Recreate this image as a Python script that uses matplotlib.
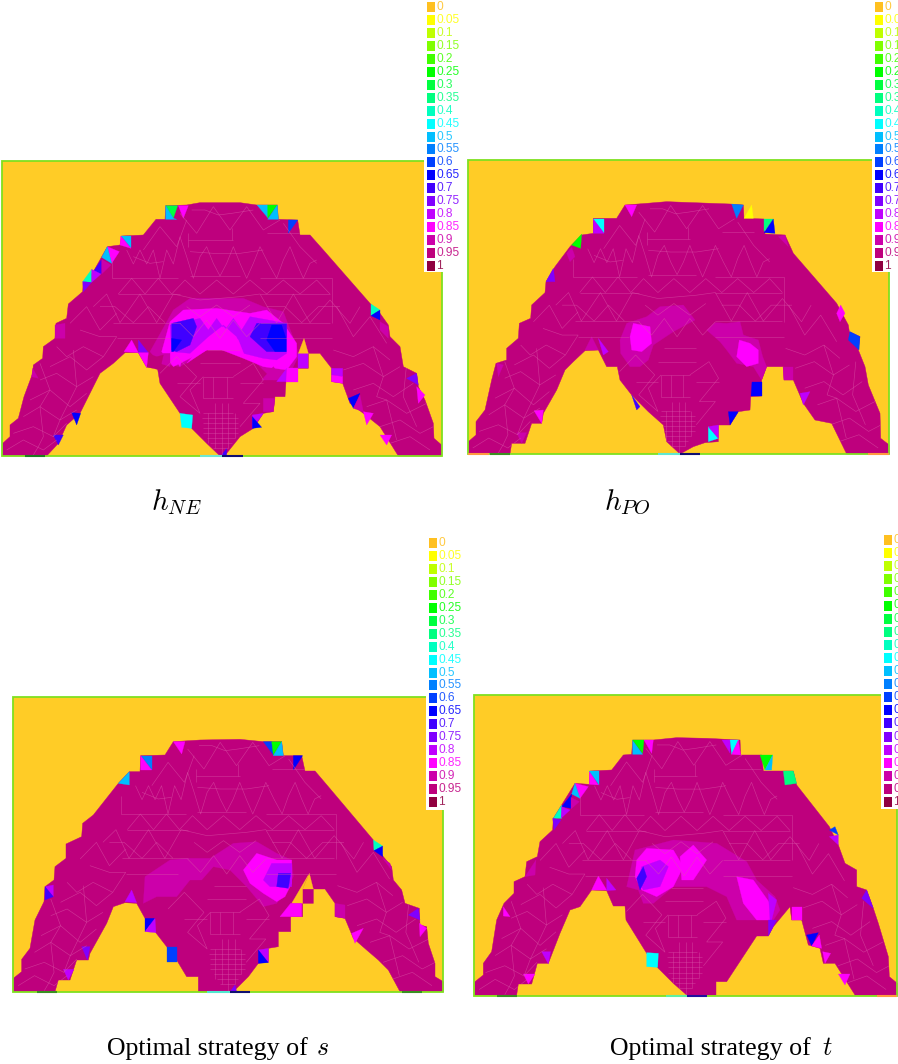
import matplotlib
matplotlib.use("Agg")
import matplotlib.pyplot as plt
from matplotlib.patches import Polygon, Rectangle

plt.rcParams['mathtext.fontset'] = 'cm'

LEVELS = ['0','0.05','0.1','0.15','0.2','0.25','0.3','0.35','0.4','0.45','0.5',
          '0.55','0.6','0.65','0.7','0.75','0.8','0.85','0.9','0.95','1']
COLORS = ['#FFC020','#FFFF00','#BFFF00','#80FF00','#40FF00','#00FF00','#00FF40','#00FF80',
          '#00FFBF','#00FFFF','#00BFFF','#0080FF','#0040FF','#0000FF','#4000FF','#8000FF',
          '#BF00FF','#FF00FF','#CC00AA','#BE007D','#900040']
GOLD = '#FFCC26'
FRAME = '#7FE020'
MESHC = '#DB55A8'

# Mesh outlines and cells, in units of 1/3 pixel of each panel's window
NE_OUT = [(8,918),(8,880),(30,860),(30,825),(55,805),(72,740),(98,670),(100,645),(128,625),(130,590),(165,565),(168,520),(200,505),(205,462),(248,425),(250,395),(280,365),(322,290),(360,285),(365,258),(430,255),(468,208),(495,208),(497,167),(560,165),(600,158),(720,158),(770,165),(832,165),(835,208),(893,210),(900,255),(930,255),(970,300),(1110,460),(1140,490),(1165,525),(1170,560),(1200,590),(1210,650),(1250,670),(1255,710),(1275,750),(1300,820),(1302,865),(1325,885),(1325,918),(1195,918),(1140,830),(1090,790),(1050,760),(1028,700),(995,695),(995,655),(960,610),(925,610),(925,655),(893,655),(893,695),(858,695),(855,740),(825,740),(820,785),(790,790),(760,835),(720,860),(680,910),(660,918),(620,880),(575,835),(540,790),(480,700),(472,652),(440,652),(415,608),(375,608),(340,640),(300,670),(240,790),(200,825),(175,880),(140,918)]
NE_CELLS = [
 (0.9,[(450,605),(520,480),(570,445),(730,445),(790,470),(850,485),(890,590),(895,620),(860,690),(820,690),(770,640),(700,600),(620,600),(540,650),(480,640)]),
 (0.85,[(485,605),(510,515),(550,480),(650,475),(750,490),(800,480),(850,520),(890,580),(890,620),(860,660),(790,650),(730,625),(640,590),(570,625),(520,650)]),
 (0.8,[(510,525),(600,505),(625,540),(650,505),(675,540),(700,505),(725,540),(750,500),(860,520),(860,610),(830,630),(790,625),(730,610),(710,560),(670,525),(625,560),(570,610),(515,605)]),
 (0.7,[(515,520),(580,505),(590,530),(570,585),(530,605),(515,600)]),
 (0.7,[(770,520),(860,520),(860,605),(800,605),(750,560)]),
 (0.65,[(800,570),(815,525),(845,525),(858,565),(858,605),(825,605)]),
 (0.65,[(515,565),(545,570),(520,605),(515,605)]),
 (0.85,[(560,640),(625,565),(670,530),(715,570),(735,620),(690,600),(620,600)]),
 (0.9,[(490,610),(510,610),(510,650),(480,640)]),
 (0.85,[(515,610),(550,615),(540,650)]),
 (0.95,[(470,620),(490,615),(480,660),(445,652),(455,615)]),
 (0.9,[(785,690),(820,650),(850,690)]),
 (0.8,[(830,695),(860,655),(860,695)]),
 (0.85,[(860,655),(893,655),(893,695),(858,695)]),
 (0.8,[(895,610),(925,610),(925,655),(895,655)]),
 (0.9,[(790,745),(825,745),(820,785),(790,785)]),
 (0,[(895,610),(912,565),(925,610)]),
 (0.3,[(497,167),(533,167),(520,205)]),
 (0.5,[(497,167),(520,205),(530,208),(497,208)]),
 (0.85,[(535,167),(565,167),(550,205)]),
 (0.5,[(770,165),(803,165),(803,205)]),
 (0.25,[(803,205),(832,165),(803,165)]),
 (0.5,[(803,208),(835,208),(832,165)]),
 (0.6,[(865,210),(893,210),(865,250)]),
 (0.48,[(362,258),(393,258),(393,295)]),
 (0.85,[(362,258),(393,295),(360,285)]),
 (0.85,[(322,290),(358,305),(335,340)]),
 (0.5,[(322,290),(305,322),(335,340)]),
 (0.7,[(280,365),(305,328),(305,372)]),
 (0.9,[(305,328),(333,345),(305,372)]),
 (0.4,[(248,395),(275,358),(275,397)]),
 (0.8,[(275,358),(303,372),(275,397)]),
 (0.75,[(248,395),(275,397),(250,425)]),
 (0.4,[(1113,462),(1140,480),(1113,497)]),
 (0.65,[(1113,497),(1140,480),(1140,510)]),
 (0.9,[(1140,515),(1165,530),(1165,565),(1140,540)]),
 (0.9,[(165,525),(195,520),(195,565),(165,565)]),
 (0.9,[(98,655),(115,685),(95,680)]),
 (0.75,[(1220,685),(1250,670),(1255,705)]),
 (0.85,[(1250,710),(1275,735),(1255,760)]),
 (0.8,[(995,655),(1028,655),(1028,680),(995,675)]),
 (0.85,[(995,675),(1028,680),(1028,700),(995,695)]),
 (0.65,[(1045,745),(1080,730),(1060,775)]),
 (0.9,[(1060,775),(1080,735),(1090,785)]),
 (0.85,[(1090,785),(1120,790),(1100,825)]),
 (0.85,[(1140,855),(1175,855),(1160,885)]),
 (0.65,[(215,788),(242,790),(230,825)]),
 (0.7,[(160,855),(190,855),(175,885)]),
 (0.45,[(540,790),(578,795),(575,835),(545,832)]),
 (0.8,[(757,795),(790,790),(757,835)]),
 (0.65,[(757,800),(785,832),(757,835)]),
 (0.85,[(372,605),(395,570),(415,608)]),
 (0.75,[(415,570),(445,608),(415,608)]),
 (0.85,[(415,608),(445,608),(440,652)]),
 (0.7,[(665,915),(680,895),(680,918)]),
]
NE_STRIPS = [(75,135,'#1f7a20'),(600,665,'#70E8D0'),(665,730,'#101070')]

PO_OUT = [(25,912),(25,875),(48,855),(48,815),(75,780),(95,690),(108,640),(140,630),(140,595),(175,565),(178,520),(212,505),(215,465),(255,428),(258,395),(285,350),(330,290),(335,285),(365,255),(400,250),(400,205),(470,205),(495,165),(560,160),(620,155),(700,158),(810,162),(850,165),(852,205),(912,207),(915,252),(975,255),(1000,310),(1130,460),(1165,525),(1168,545),(1200,560),(1195,600),(1215,650),(1225,705),(1260,790),(1262,865),(1288,885),(1288,912),(1160,912),(1115,820),(1065,810),(1030,760),(1000,690),(972,690),(970,650),(920,650),(905,690),(905,738),(872,740),(870,780),(835,785),(810,825),(775,825),(775,875),(735,878),(700,890),(660,912),(620,875),(610,825),(565,785),(515,735),(480,690),(472,650),(440,650),(415,600),(375,602),(340,635),(315,660),(290,720),(250,790),(245,820),(215,820),(195,880),(155,880),(150,912)]
PO_CELLS = [
 (0.9,[(480,570),(500,520),(560,500),(600,470),(670,465),(705,510),(640,545),(580,585),(565,630),(540,650),(510,650),(482,610)]),
 (0.9,[(740,540),(765,518),(800,520),(840,515),(850,555),(895,570),(908,620),(920,650),(905,690),(880,650),(830,640),(800,600),(780,575)]),
 (0.85,[(510,560),(520,520),(570,530),(575,580),(545,605),(515,600)]),
 (0.85,[(830,620),(838,570),(870,580),(895,600),(895,640),(860,650)]),
 (0.85,[(495,165),(530,165),(515,200)]),
 (0.55,[(815,162),(850,165),(830,205)]),
 (0.05,[(852,205),(875,165),(880,205)]),
 (0.45,[(400,207),(432,207),(432,250)]),
 (0.8,[(400,207),(432,250),(400,250)]),
 (0.25,[(335,285),(365,252),(362,295)]),
 (0.35,[(912,207),(940,207),(912,245)]),
 (0.65,[(940,207),(945,250),(912,248)]),
 (0.9,[(320,310),(335,292),(345,320),(330,335)]),
 (0.75,[(258,395),(280,355),(285,395)]),
 (0.9,[(955,260),(975,255),(985,290)]),
 (0.85,[(1130,490),(1142,465),(1155,490),(1140,515)]),
 (0.6,[(1165,570),(1170,545),(1200,560),(1197,600)]),
 (0.9,[(375,600),(395,560),(415,600)]),
 (0.8,[(415,565),(445,605),(430,615)]),
 (0.9,[(970,650),(1000,650),(1000,690),(972,690)]),
 (0.8,[(1020,730),(1050,725),(1030,765)]),
 (0.85,[(222,782),(250,780),(245,820)]),
 (0.9,[(170,848),(200,848),(185,880)]),
 (0.9,[(110,640),(130,645),(115,680)]),
 (0.65,[(875,695),(905,695),(905,738),(872,738)]),
 (0.65,[(805,785),(835,785),(810,825)]),
 (0.7,[(515,735),(540,770),(530,780)]),
 (0.45,[(745,830),(775,865),(745,875)]),
 (0.8,[(745,830),(775,825),(775,865)]),
]
PO_STRIPS = [(25,88,'#FF9A40'),(90,150,'#3a9020'),(595,660,'#60E8D0'),(660,720,'#101070'),(1225,1288,'#FF9A40')]

S_OUT = [(40,905),(40,865),(65,845),(65,808),(90,775),(105,690),(132,635),(135,590),(162,570),(165,530),(198,505),(198,462),(245,440),(248,400),(280,375),(355,280),(388,245),(420,245),(422,197),(495,195),(520,155),(600,150),(720,148),(790,155),(845,155),(850,197),(905,197),(915,243),(945,243),(985,290),(1120,450),(1150,500),(1175,530),(1180,570),(1205,600),(1215,640),(1258,655),(1260,705),(1280,710),(1285,760),(1305,820),(1305,860),(1330,875),(1330,905),(1200,905),(1165,840),(1135,810),(1100,780),(1060,745),(1035,685),(1005,680),(1005,640),(975,597),(940,597),(940,640),(908,640),(908,680),(872,680),(872,725),(835,725),(835,770),(805,775),(805,815),(775,820),(745,860),(705,900),(690,905),(595,905),(595,860),(560,860),(530,810),(500,770),(465,725),(435,685),(410,640),(375,638),(340,650),(320,700),(270,790),(265,810),(230,810),(210,870),(175,870),(165,905)]
S_CELLS = [
 (0.9,[(435,560),(510,510),(560,505),(630,505),(700,460),(770,455),(830,490),(875,510),(880,560),(860,600),(830,640),(790,650),(740,590),(690,540),(640,530),(605,570),(570,570),(530,620),(470,620),(430,640)]),
 (0.85,[(730,540),(770,490),(830,510),(875,510),(875,580),(855,620),(830,635),(790,610),(750,580)]),
 (0.8,[(790,570),(815,520),(875,520),(875,590),(810,590)]),
 (0.7,[(835,550),(872,550),(865,595),(830,590)]),
 (0,[(908,597),(928,550),(940,597)]),
 (0,[(875,640),(925,555),(908,597),(908,640)]),
 (0.85,[(520,155),(555,155),(545,192)]),
 (0.58,[(790,155),(815,155),(820,195)]),
 (0.25,[(815,155),(845,155),(820,195)]),
 (0.52,[(820,197),(845,155),(850,197)]),
 (0.65,[(880,197),(908,197),(880,240)]),
 (0.55,[(422,197),(455,197),(455,240)]),
 (0.85,[(422,197),(455,240),(422,240)]),
 (0.5,[(355,280),(388,245),(388,285)]),
 (0.4,[(1120,450),(1148,468),(1122,482)]),
 (0.65,[(1122,482),(1148,468),(1148,500)]),
 (0.9,[(1148,505),(1170,520),(1175,540)]),
 (0.8,[(135,590),(160,585),(160,620)]),
 (0.7,[(135,590),(160,620),(135,630)]),
 (0.8,[(375,635),(395,600),(410,638)]),
 (0.65,[(435,685),(465,685),(435,725)]),
 (0.8,[(435,725),(465,685),(468,728)]),
 (0.6,[(500,772),(530,772),(530,815),(500,815)]),
 (0.8,[(775,780),(805,775),(805,818)]),
 (0.65,[(775,780),(805,818),(775,820)]),
 (0.85,[(840,680),(872,640),(905,640),(905,680)]),
 (0.9,[(1005,640),(1035,645),(1035,685),(1005,680)]),
 (0.75,[(1225,675),(1255,655),(1260,690)]),
 (0.85,[(1258,700),(1280,715),(1260,740)]),
 (0.85,[(1055,730),(1090,715),(1065,760)]),
 (0.75,[(245,770),(270,770),(262,810)]),
 (0.8,[(190,838),(222,838),(205,870)]),
 (0.75,[(690,905),(705,885),(710,905)]),
]
S_STRIPS = [(110,170,'#3a9020'),(620,690,'#50E8D0'),(690,750,'#101070'),(1205,1265,'#3a9020')]

T_OUT = [(45,915),(45,875),(70,855),(70,820),(95,785),(110,690),(132,640),(162,610),(162,575),(195,560),(200,515),(232,500),(240,455),(278,420),(280,385),(345,280),(388,283),(390,243),(455,240),(490,195),(515,193),(518,150),(580,150),(650,143),(740,145),(840,150),(842,195),(905,195),(910,243),(1000,243),(1010,285),(1108,410),(1135,465),(1155,520),(1190,540),(1190,590),(1220,600),(1240,655),(1255,700),(1285,800),(1288,860),(1312,880),(1312,915),(1185,915),(1125,820),(1090,820),(1080,775),(1045,765),(1025,690),(995,690),(990,650),(940,710),(925,738),(890,738),(800,875),(768,875),(768,915),(680,915),(640,880),(590,830),(560,790),(498,690),(495,648),(460,648),(440,602),(395,600),(360,650),(330,660),(300,730),(265,820),(232,820),(215,882),(175,882),(170,915)]
T_CELLS = [
 (0.9,[(500,590),(525,480),(640,450),(770,460),(860,515),(890,570),(945,620),(960,660),(940,690),(900,690),(830,690),(800,620),(740,590),(640,590),(580,640),(550,640),(535,600)]),
 (0.85,[(530,510),(560,475),(640,480),(670,530),(640,590),(590,620),(545,600),(525,560)]),
 (0.85,[(660,500),(700,465),(740,510),(700,570),(665,570)]),
 (0.85,[(830,560),(880,570),(930,640),(930,690),(890,690),(850,640)]),
 (0.8,[(545,530),(600,510),(625,530),(600,590),(550,600),(535,570)]),
 (0.7,[(530,565),(550,530),(560,560),(540,600)]),
 (0.8,[(925,610),(950,630),(935,690),(930,690)]),
 (0.5,[(518,150),(548,193),(518,193)]),
 (0.25,[(518,150),(552,150),(548,190)]),
 (0.85,[(552,150),(580,150),(575,190)]),
 (0.8,[(785,150),(810,150),(810,190)]),
 (0.45,[(810,150),(835,150),(815,193)]),
 (0.85,[(815,193),(835,150),(842,195)]),
 (0.25,[(900,195),(938,195),(915,240)]),
 (0.5,[(915,240),(938,195),(935,240)]),
 (0.33,[(970,243),(1000,243),(1010,280),(975,285)]),
 (0.5,[(388,243),(418,243),(418,285)]),
 (0.85,[(388,245),(415,285),(388,283)]),
 (0.85,[(345,280),(385,290),(360,325)]),
 (0.5,[(345,280),(360,325),(335,312)]),
 (0.65,[(305,350),(335,312),(333,355)]),
 (0.9,[(333,322),(358,335),(333,357)]),
 (0.42,[(280,385),(305,345),(305,385)]),
 (0.8,[(305,350),(330,360),(303,385)]),
 (0.75,[(278,385),(303,390),(282,420)]),
 (0.6,[(1108,420),(1125,410),(1135,435)]),
 (0.8,[(1108,440),(1135,435),(1135,465)]),
 (0.9,[(195,560),(228,510),(225,555)]),
 (0.85,[(130,650),(150,680),(130,678)]),
 (0.75,[(1205,625),(1220,600),(1240,655)]),
 (0.85,[(395,600),(415,558),(440,600)]),
 (0.8,[(440,565),(468,600),(440,602)]),
 (0.85,[(995,650),(1025,650),(1025,690),(995,690)]),
 (0.65,[(1040,735),(1075,728),(1055,768)]),
 (0.85,[(1055,768),(1078,735),(1085,775)]),
 (0.85,[(1088,785),(1112,790),(1095,820)]),
 (0.85,[(1135,852),(1170,852),(1155,885)]),
 (0.8,[(245,785),(272,785),(265,822)]),
 (0.85,[(190,852),(225,852),(205,882)]),
 (0.47,[(560,788),(595,790),(593,832),(560,830)]),
 (0.75,[(925,690),(950,690),(925,738)]),
]
T_STRIPS = [(110,172,'#3a9020'),(618,680,'#60F0A0'),(680,742,'#2010A0'),(1250,1312,'#FF9A40')]

# Shared finite-element mesh lines (read from the h_NE panel window)
MESH_LINES = [
 [(335,385),(535,385)],[(780,385),(995,385)],[(355,432),(540,432)],[(780,432),(990,432)],
 [(340,518),(540,518)],[(780,518),(990,518)],[(350,565),(510,565)],[(780,565),(995,565)],
 [(335,385),(335,330)],[(570,378),(720,378)],[(995,385),(995,520)],[(565,250),(565,290)],
 [(565,270),(700,270)],[(695,235),(695,270)],[(800,250),(900,250)],
 [(610,680),(700,680)],[(610,680),(610,745)],[(610,745),(700,745)],[(640,680),(640,745)],[(680,680),(680,745)],
 [(610,790),(700,790)],[(605,805),(715,805)],[(610,820),(715,820)],[(610,835),(715,835)],[(610,850),(715,850)],
 [(620,865),(705,865)],[(630,880),(695,880)],[(640,895),(685,895)],
 [(625,790),(625,880)],[(645,760),(645,895)],[(665,760),(665,915)],[(685,760),(685,895)],[(705,790),(705,865)],
 [(380,300),(400,342),(420,300),(440,342),(460,300),(480,385),(500,300),(520,342),(540,260),(560,320),(580,385),(600,320),(620,290),(640,340),(660,378),(680,340),(700,290),(720,340),(740,385),(760,340),(780,290),(805,340),(830,385),(850,330),(870,290),(890,340),(910,385),(930,340),(950,330)],
 [(355,432),(395,385),(435,432),(475,385),(515,432),(555,390),(600,432),(650,390),(700,432),(750,390),(800,432),(850,390),(900,432),(950,390),(990,432)],
 [(280,470),(320,432),(360,518),(420,432),(470,518),(520,432),(600,450),(720,440),(780,432),(830,518),(880,432),(930,518),(990,450),(1050,520),(1080,470)],
 [(300,470),(345,470),(400,518),(445,470),(495,518)],[(800,470),(855,470),(905,518),(955,470),(1020,470)],
 [(540,190),(565,220),(590,250),(615,210),(640,170),(665,205),(690,240),(715,205),(740,170),(765,205),(790,240),(815,225),(840,210)],
 [(575,180),(615,180),(655,195),(695,190),(760,180)],[(570,305),(640,310),(720,310),(790,300)],
 [(430,300),(455,265),(480,230),(505,260),(530,290),(545,250),(560,210)],
 [(850,220),(875,255),(900,290),(925,315),(950,340)],[(400,320),(450,340),(490,335)],
 [(210,520),(235,495),(260,470),(280,505),(300,540),(325,515),(350,490)],[(1010,470),(1035,515),(1060,560),(1085,530),(1110,500),(1135,540),(1160,580)],
 [(240,540),(270,550),(300,560),(350,560),(330,590),(310,620),(280,605),(250,590),(225,605),(200,620),(185,605),(170,590)],
 [(150,650),(180,635),(210,620),(235,640),(260,660),(285,640),(310,620)],[(120,690),(145,680),(170,670),(200,690),(230,710),(255,695),(280,680)],
 [(90,750),(120,735),(150,720),(180,745),(210,770),(235,750),(260,730)],[(70,800),(95,785),(120,770),(150,790),(180,810),(205,795),(230,780)],
 [(40,850),(70,840),(100,830),(130,845),(160,860),(180,840),(200,820)],[(20,900),(45,885),(70,870),(100,885),(130,900),(150,885),(170,870)],
 [(120,640),(135,680),(150,720),(135,745),(120,770),(125,815),(130,860),(115,890),(100,915)],[(220,600),(225,655),(230,710),(205,760),(180,810),(170,835),(160,860)],
 [(1000,600),(1030,610),(1060,620),(1090,605),(1120,590),(1145,610),(1170,630)],[(1030,660),(1060,650),(1090,640),(1120,660),(1150,680),(1175,665),(1200,650)],
 [(1060,720),(1090,710),(1120,700),(1150,720),(1180,740),(1210,720),(1240,700)],[(1100,770),(1130,760),(1160,750),(1190,770),(1220,790),(1250,775),(1280,760)],
 [(1140,830),(1170,820),(1200,810),(1230,830),(1260,850),(1280,840),(1300,830)],[(1170,880),(1200,870),(1230,860),(1260,880),(1290,900)],
 [(1120,590),(1135,635),(1150,680),(1140,710),(1130,740),(1160,750),(1175,810),(1190,870)],[(1220,640),(1215,690),(1210,740),(1230,785),(1250,830)],
 [(480,670),(505,645),(530,620),(560,650),(590,680),(565,710),(540,740),(570,765),(600,790),(585,755),(570,720),(590,700),(610,680)],
 [(700,680),(730,660),(760,640),(775,665),(790,690),(760,725),(730,760),(755,760),(780,760),(750,795),(720,830)],
 [(530,700),(600,700)],[(720,700),(790,700)],[(600,640),(720,640)],[(620,600),(720,600)],
 [(540,520),(580,560),(620,510),(660,565),(700,510),(740,560),(780,520)],[(560,470),(600,500),(650,465),(700,500),(750,465)],
]
REF_FRAME = (5, 1325, 33, 918)

PANELS = [
 (0, 150, 450, 320, NE_OUT, NE_CELLS, NE_STRIPS, (5,1325,33,918)),
 (460, 150, 438, 320, PO_OUT, PO_CELLS, PO_STRIPS, (24,1288,30,912)),
 (0, 690, 450, 320, S_OUT, S_CELLS, S_STRIPS, (40,1330,20,905)),
 (460, 690, 438, 320, T_OUT, T_CELLS, T_STRIPS, (43,1312,15,917)),
]
# legend: swatch left, first centre, step, white box (left, right, bottom)
LEGENDS = [(427,7,12.95,424,458,272),(875,7,12.95,872,898,272),
           (429,543,12.95,426,460,810),(884,540,13.1,881,898,809)]
MATH_CAPTIONS = [(176.5,510,r'$h_{NE}$'),(627,510,r'$h_{PO}$')]
TEXT_CAPTIONS = [(107,1055,'Optimal strategy of'),(610,1055,'Optimal strategy of')]
VAR_CAPTIONS = [(322,1055,'$s$'),(827,1055,'$t$')]

W, H = 898, 1064
fig = plt.figure(figsize=(W/100, H/100), dpi=100, facecolor='white')

def colour(v):
    return COLORS[int(round(v*20))]

for (cx, cy, cw, ch, outline, cells, strips, fr) in PANELS:
    ax = fig.add_axes([cx/W, 1-(cy+ch)/H, cw/W, ch/H])
    ax.set_xlim(0, cw*3); ax.set_ylim(ch*3, 0); ax.axis('off')
    x0, x1, y0, y1 = fr
    ax.add_patch(Rectangle((x0,y0), x1-x0, y1-y0, fc=GOLD, ec='none', zorder=1))
    ax.add_patch(Polygon(outline, closed=True, fc=COLORS[19], ec=COLORS[19], lw=0.3, zorder=2))
    for v, pts in cells:
        ax.add_patch(Polygon(pts, closed=True, fc=colour(v), ec=colour(v), lw=0.2, zorder=3))
    rx0, rx1, ry0, ry1 = REF_FRAME
    clip = Polygon(outline, closed=True, transform=ax.transData)
    for seg in MESH_LINES:
        xs = [x0 + (p[0]-rx0)*(x1-x0)/(rx1-rx0) for p in seg]
        ys = [y0 + (p[1]-ry0)*(y1-y0)/(ry1-ry0) for p in seg]
        ln, = ax.plot(xs, ys, color=MESHC, lw=0.45, alpha=0.6, zorder=4, solid_capstyle='butt')
        ln.set_clip_path(clip)
    ax.add_patch(Rectangle((x0,y0), x1-x0, y1-y0, fc='none', ec=FRAME, lw=1.3, zorder=5))
    for a, b, c in strips:
        ax.plot([a,b],[y1,y1], color=c, lw=1.5, zorder=6, solid_capstyle='butt')

page = fig.add_axes([0,0,1,1], zorder=10)
page.set_xlim(0,W); page.set_ylim(H,0); page.axis('off'); page.patch.set_alpha(0)

for (sx, y0, step, bl, br, bb) in LEGENDS:
    page.add_patch(Rectangle((bl,y0-7), br-bl, bb-y0+7, fc='white', ec='none', zorder=1))
    for i, (lab, col) in enumerate(zip(LEVELS, COLORS)):
        yc = y0 + i*step
        page.add_patch(Rectangle((sx,yc-5), 8, 10, fc=col, ec='none', zorder=2))
        page.text(sx+9.5, yc, lab, color=col, fontsize=8.6, family='Liberation Sans',
                  va='center', ha='left', zorder=3, alpha=0.85, clip_on=False)

for x, y, s in MATH_CAPTIONS:
    page.text(x, y, s, fontsize=21, ha='center', va='baseline')
for x, y, s in TEXT_CAPTIONS:
    page.text(x, y, s, fontsize=18.6, family='Liberation Serif', ha='left', va='baseline')
for x, y, s in VAR_CAPTIONS:
    page.text(x, y, s, fontsize=18.6, ha='center', va='baseline')

fig.savefig('out.png', dpi=100, facecolor='white')
